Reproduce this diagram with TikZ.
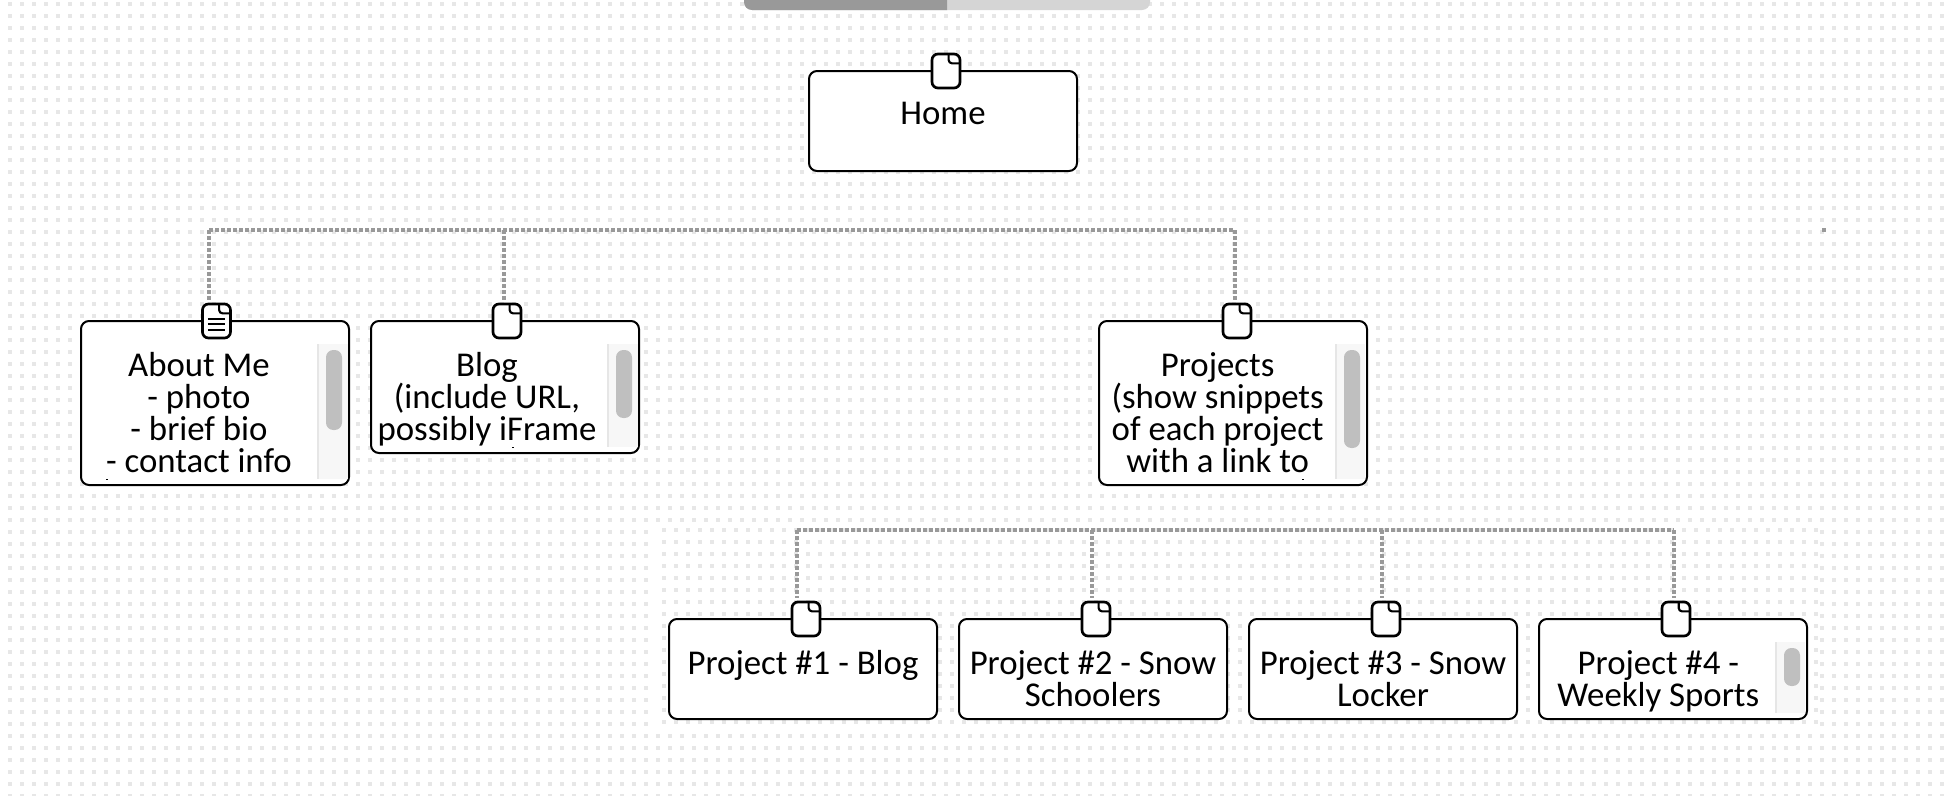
\documentclass[tikz,border=0pt]{standalone}
\usepackage{xcolor}
\usepackage{fontspec}
\setmainfont{Carlito}
\usetikzlibrary{positioning}
\definecolor{griddot}{HTML}{E7E7E7}
\definecolor{linkgray}{HTML}{999999}
\definecolor{bardark}{HTML}{999999}
\definecolor{barlight}{HTML}{D5D5D5}
\definecolor{trackfill}{HTML}{F7F7F7}
\definecolor{trackline}{HTML}{E6E6E6}
\definecolor{thumbgray}{HTML}{BFBFBF}
\tikzset{
  pagebox/.style={draw=black, fill=white, line width=1.5pt, rounded corners=6pt, outer sep=0pt,
    minimum width=201pt, minimum height=75pt},
  pagetext/.style={font=\fontsize{26.1}{24}\selectfont, align=center, inner sep=0pt},
  docicon/.style={draw=black, fill=white, line width=2pt, rounded corners=4.5pt, outer sep=0pt, inner sep=0pt,
    minimum width=21pt, minimum height=25.5pt,
    path picture={
      \draw[line width=1.6pt, rounded corners=2.5pt] ([xshift=-8.5pt]path picture bounding box.north east)
        -- ++(0,-7pt) -- ++(8.5pt,0);
    }},
  textdoc/.style={docicon, path picture={
      \draw[line width=1.6pt, rounded corners=2.5pt] ([xshift=-8.5pt]path picture bounding box.north east)
        -- ++(0,-7pt) -- ++(8.5pt,0);
      \draw[line width=1.5pt] ([xshift=-6.5pt,yshift=1.2pt]path picture bounding box.center) -- ++(13pt,0)
        ([xshift=-6.5pt,yshift=-2.6pt]path picture bounding box.center) -- ++(13pt,0)
        ([xshift=-6.5pt,yshift=-6.5pt]path picture bounding box.center) -- ++(13pt,0);
    }},
  link/.style={draw=linkgray, line width=3pt, dash pattern=on 3pt off 1.5pt},
  dotrow/.style={draw=griddot, line width=2.4pt, dash pattern=on 2.4pt off 6.6pt},
  track/.style={fill=trackfill},
  thumb/.style={fill=thumbgray, rounded corners=5.5pt}
}
\begin{document}
\begin{tikzpicture}[x=0.75pt, y=-0.75pt]
  \useasboundingbox (0,0) rectangle (1950,796);
  % dotted canvas
  \fill[white] (0,0) rectangle (1950,796);
  \foreach \y in {4,16,...,796} {\draw[dotrow] (8.4,\y) -- (1950,\y);}
  \fill[white] (655,524) rectangle (1818,726);
  \foreach \y in {530,542,...,722} {\draw[dotrow] (662.4,\y) -- (1818,\y);}
  % progress bar
  \fill[barlight, rounded corners=6pt] (744,-12) rectangle (1150,10);
  \fill[bardark, rounded corners=6pt] (744,-12) -- (744,10) [sharp corners] -- (947,10) -- (947,-12) -- cycle;
  % pages
  \node[pagebox] (home) at (943,121) {};
  \node[pagebox, minimum height=123pt] (about) at (215,403) {};
  \node[pagebox, minimum height=99pt, right=16.5pt of about.north east, anchor=north west] (blog) {};
  \node[pagebox, minimum height=123pt] (projects) at (1233,403) {};
  \node[pagebox] (projectone) at (803,669) {};
  \node[pagebox, right=16.5pt of projectone] (projecttwo) {};
  \node[pagebox, right=16.5pt of projecttwo] (projectthree) {};
  \node[pagebox, right=16.5pt of projectthree] (projectfour) {};
  % scrollbars
  \fill[track] (318,344) rectangle (348,479);
  \fill[trackline] (317,344) rectangle (319,479);
  \fill[thumb] (326,350) rectangle (342,430);
  \fill[track] (608,344) rectangle (638,447);
  \fill[trackline] (607,344) rectangle (609,447);
  \fill[thumb] (616,350) rectangle (632,418);
  \fill[track] (1336,344) rectangle (1365,479);
  \fill[trackline] (1335,344) rectangle (1337,479);
  \fill[thumb] (1344,350) rectangle (1360,448);
  \fill[track] (1776,642) rectangle (1805,713);
  \fill[trackline] (1775,642) rectangle (1777,713);
  \fill[thumb] (1784,648) rectangle (1800,686);
  % page icons
  \node[docicon] (homedoc) at ([xshift=2.25pt]home.north) {};
  \node[textdoc] (aboutdoc) at ([xshift=1.1pt]about.north) {};
  \node[docicon] (blogdoc) at ([xshift=1.5pt]blog.north) {};
  \node[docicon] (projectsdoc) at ([xshift=3pt]projects.north) {};
  \node[docicon] (onedoc) at ([xshift=2.25pt]projectone.north) {};
  \node[docicon] (twodoc) at ([xshift=2.25pt]projecttwo.north) {};
  \node[docicon] (threedoc) at ([xshift=2.25pt]projectthree.north) {};
  \node[docicon] (fourdoc) at ([xshift=2.25pt]projectfour.north) {};
  % page names
  \node[pagetext, below=23.3pt of home.north] (hometext) {Home};
  \node[pagetext, below=23.3pt of about.north, xshift=-12pt] (abouttext) {About Me\\- photo\\- brief bio\\- contact info};
  \node[pagetext, below=23.3pt of blog.north, xshift=-13.5pt] (blogtext) {Blog\\(include URL,\\possibly iFrame};
  \node[pagetext, below=23.3pt of projects.north, xshift=-11.5pt] (projectstext) {Projects\\(show snippets\\of each project\\with a link to};
  \node[pagetext, below=23.3pt of projectone.north] (onetext) {Project \#1 - Blog};
  \node[pagetext, below=23.3pt of projecttwo.north] (twotext) {Project \#2 - Snow\\Schoolers};
  \node[pagetext, below=23.3pt of projectthree.north] (threetext) {Project \#3 - Snow\\Locker};
  \node[pagetext, below=23.3pt of projectfour.north, xshift=-11pt] (fourtext) {Project \#4 -\\Weekly Sports};
  % connectors
  \coordinate (busabout) at (209,230);
  \coordinate (busblog) at (504,230);
  \coordinate (busprojects) at (1235,230);
  \coordinate (busone) at (797,530);
  \coordinate (bustwo) at (1092,530);
  \coordinate (busthree) at (1382,530);
  \coordinate (busfour) at (1674,530);
  \draw[link] (busabout) -- (busprojects);
  \draw[link, shorten >=3pt] (busabout) -- (busabout |- aboutdoc.north);
  \draw[link, shorten >=3pt] (busblog) -- (busblog |- blogdoc.north);
  \draw[link, shorten >=3pt] (busprojects) -- (busprojects |- projectsdoc.north);
  \draw[link] (busone) -- (busfour);
  \draw[link, shorten >=3pt] (busone) -- (busone |- onedoc.north);
  \draw[link, shorten >=3pt] (bustwo) -- (bustwo |- twodoc.north);
  \draw[link, shorten >=3pt] (busthree) -- (busthree |- threedoc.north);
  \draw[link, shorten >=3pt] (busfour) -- (busfour |- fourdoc.north);
  \fill[linkgray] (1822,228) rectangle (1826,232);
  % clipped line remnants
  \fill[black] (106,479) rectangle (108,480);
  \fill[black] (512,447) rectangle (514,448);
  \fill[black] (1302,479) rectangle (1304,480);
\end{tikzpicture}
\end{document}
